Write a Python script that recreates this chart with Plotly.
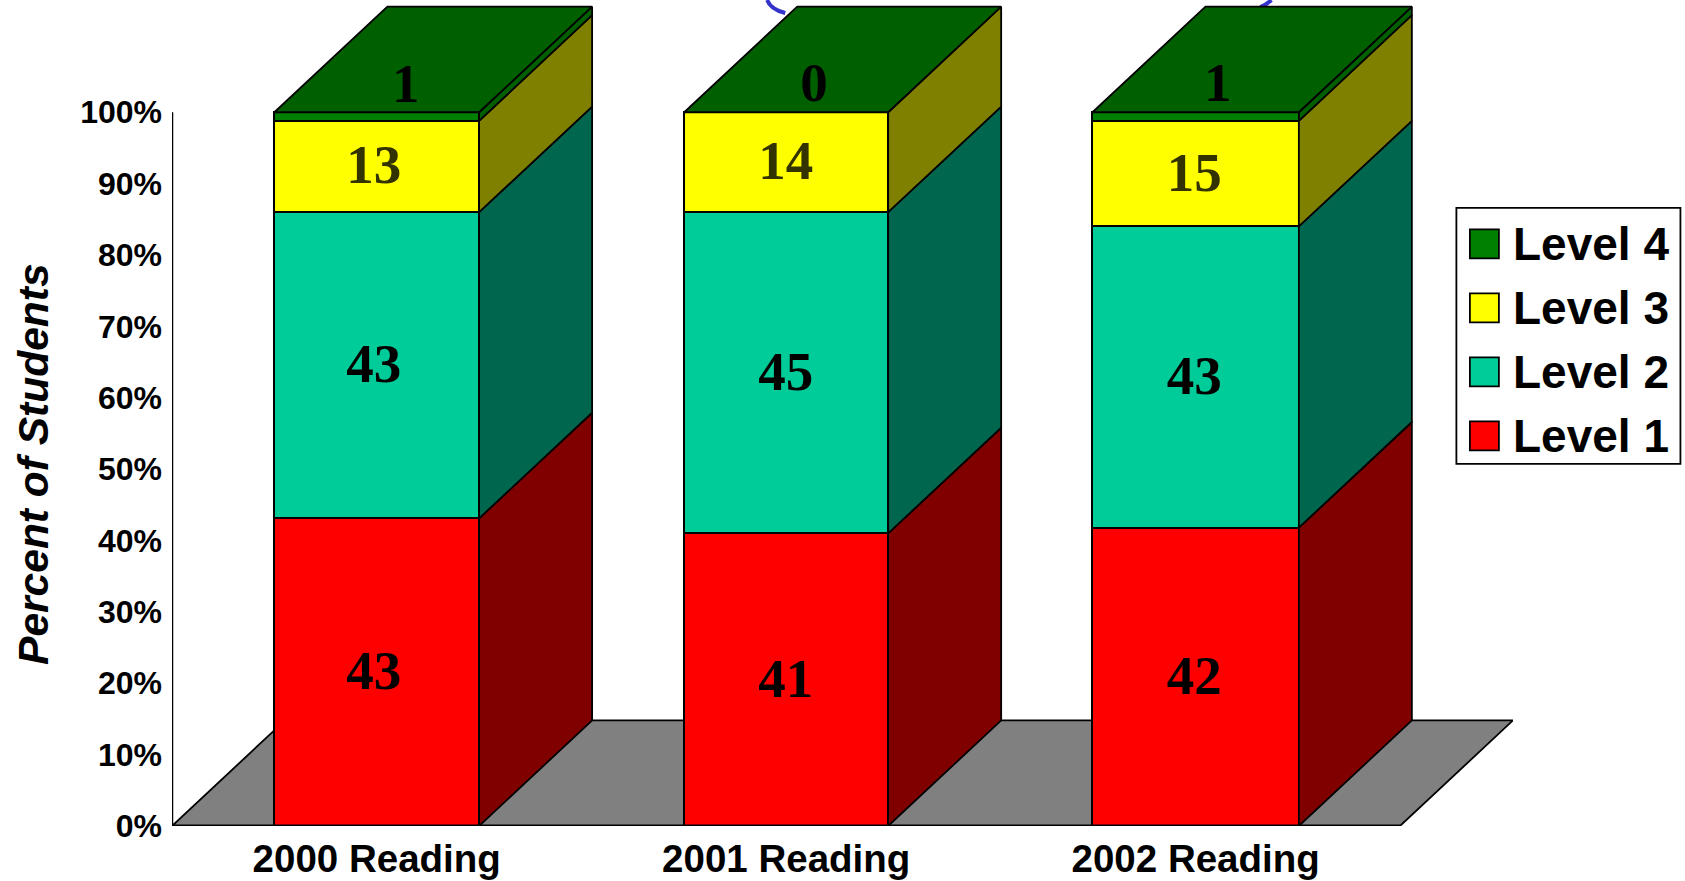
import plotly.graph_objects as go

categories = ["2000 Reading", "2001 Reading", "2002 Reading"]
level1 = [43.1, 41.0, 41.8]
level2 = [42.9, 45.0, 42.2]
level3 = [12.8, 14.0, 14.8]
level4 = [1.2, 0.0, 1.2]
label1 = ["43", "41", "42"]
label2 = ["43", "45", "43"]
label3 = ["13", "14", "15"]
label4 = ["1", "0", "1"]
level_names = ["Level 1", "Level 2", "Level 3", "Level 4"]
front_colors = ["#FF0000", "#00CC99", "#FFFF00", "#008000"]
side_colors = ["#800000", "#00664D", "#808000", "#006000"]
label_colors = ["#000000", "#000000", "#333300", "#000000"]
y_ticks = [0, 10, 20, 30, 40, 50, 60, 70, 80, 90, 100]
y_ticktext = [f"{v}%" for v in y_ticks]
label_dx = [-0.007, -0.001, -0.0035]
level4_label_dx = [0.071, 0.068, 0.054]
level4_label_y = [103.4, 103.5, 103.5]
bar_widths = [0.5, 0.498, 0.504]

W, H = 1685, 881
X0, X1 = 171.9, 1512.6      # plot area, px
Y0, Y1 = 826.3, 5.0
DEPTH_X = 0.276
DEPTH_Y = 14.8
FLOOR_Y = 14.8
XMIN, XMAX = -0.5, 2.775
YMAX = (Y0 - Y1) / 7.14
LABEL_SHIFT = -0.45


def px(x):
    return (x - X0) / (X1 - X0)


def py(y):
    return (Y0 - y) / (Y0 - Y1)


SERIES = [level1, level2, level3, level4]
LABELS = [label1, label2, label3, label4]
xs = list(range(len(categories)))
fig = go.Figure()

# front faces
for name, vals, col in zip(level_names, SERIES, front_colors):
    fig.add_trace(go.Bar(
        x=xs, y=vals, name=name, width=bar_widths, showlegend=False,
        marker=dict(color=col, line=dict(color="#000000", width=2)),
        hoverinfo="skip",
    ))

# side faces and tops, computed from the stacked values
for i, x in enumerate(xs):
    xr = x + bar_widths[i] / 2
    xl = x - bar_widths[i] / 2
    base = 0.0
    for s, vals in enumerate(SERIES):
        top = base + vals[i]
        if vals[i] > 0:
            fig.add_trace(go.Scatter(
                x=[xr, xr, xr + DEPTH_X, xr + DEPTH_X, xr],
                y=[base, top, top + DEPTH_Y, base + DEPTH_Y, base],
                mode="lines", fill="toself", fillcolor=side_colors[s],
                line=dict(color="#000000", width=1.8), showlegend=False,
                hoverinfo="skip", cliponaxis=False,
            ))
        base = top
    fig.add_trace(go.Scatter(
        x=[xl, xr, xr + DEPTH_X, xl + DEPTH_X, xl],
        y=[base, base, base + DEPTH_Y, base + DEPTH_Y, base],
        mode="lines", fill="toself", fillcolor=side_colors[3],
        line=dict(color="#000000", width=1.8), showlegend=False,
        hoverinfo="skip", cliponaxis=False,
    ))

# data labels
cum = [0.0] * len(xs)
for s, (vals, labs) in enumerate(zip(SERIES, LABELS)):
    if s < 3:
        lx = [x + d for x, d in zip(xs, label_dx)]
        ly = [c + v / 2 + LABEL_SHIFT for c, v in zip(cum, vals)]
    else:
        lx = [x + d for x, d in zip(xs, level4_label_dx)]
        ly = level4_label_y
    fig.add_trace(go.Scatter(
        x=lx, y=ly, text=labs, mode="text", showlegend=False, hoverinfo="skip",
        textposition="middle center", cliponaxis=False,
        textfont=dict(family="Liberation Serif", size=55, color=label_colors[s], weight="bold"),
    ))
    cum = [c + v for c, v in zip(cum, vals)]

shapes = []
# floor
floor = (f"M {XMIN} 0 L {XMIN + DEPTH_X} {FLOOR_Y} L {XMAX} {FLOOR_Y} "
         f"L {XMAX - DEPTH_X} 0 Z")
shapes.append(dict(type="path", path=floor, xref="x", yref="y", layer="below",
                   fillcolor="#808080", line=dict(color="#000000", width=1.8)))
# axis lines
shapes.append(dict(type="line", xref="x", yref="y", x0=XMIN, x1=XMIN, y0=0, y1=100,
                   line=dict(color="#000000", width=2.5), layer="below"))
shapes.append(dict(type="line", xref="x", yref="y", x0=XMIN, x1=XMAX - DEPTH_X, y0=0, y1=0,
                   line=dict(color="#000000", width=3), layer="above"))
# blue remnants at the top edge
for a, c, b in [((785, 13), (770, 9), (767, 0)), ((1260, 7), (1267, 4), (1271, 0))]:
    shapes.append(dict(type="path", xref="paper", yref="paper", layer="below",
                       path=f"M {px(a[0])} {py(a[1])} Q {px(c[0])} {py(c[1])} {px(b[0])} {py(b[1])}",
                       line=dict(color="#3333CC", width=4)))
# legend box
shapes.append(dict(type="rect", xref="paper", yref="paper",
                   x0=px(1456), x1=px(1680), y0=py(208), y1=py(464),
                   fillcolor="#FFFFFF", line=dict(color="#000000", width=1.8)))

annotations = [dict(
    text="<b><i>Percent of Students</i></b>", xref="paper", yref="paper",
    x=px(34), y=py(465), textangle=-90, showarrow=False, xanchor="center", yanchor="middle",
    font=dict(family="Liberation Sans", size=42.5, color="#000000"),
)]
for k, (name, col) in enumerate(zip(level_names[::-1], front_colors[::-1])):
    cy = 244 + k * 64
    shapes.append(dict(type="rect", xref="paper", yref="paper",
                       x0=px(1469.5), x1=px(1498.5), y0=py(cy - 14.5), y1=py(cy + 14.5),
                       fillcolor=col, line=dict(color="#000000", width=1.8)))
    annotations.append(dict(
        text=f"<b>{name}</b>", xref="paper", yref="paper", x=px(1511), y=py(cy),
        xanchor="left", yanchor="middle", showarrow=False,
        font=dict(family="Liberation Sans", size=46, color="#000000"),
    ))

fig.update_layout(
    barmode="stack", width=W, height=H, autosize=False,
    paper_bgcolor="#FFFFFF", plot_bgcolor="rgba(0,0,0,0)", showlegend=False,
    margin=dict(l=X0, r=W - X1, t=Y1, b=H - Y0, pad=0, autoexpand=False),
    shapes=shapes, annotations=annotations,
    xaxis=dict(range=[XMIN, XMAX], tickvals=xs, ticktext=categories, showgrid=False,
               zeroline=False, showline=False, ticks="", automargin=False,
               ticklabelstandoff=6,
               tickfont=dict(family="Liberation Sans", size=38.5, color="#000000", weight="bold")),
    yaxis=dict(range=[0, YMAX], tickvals=y_ticks, ticktext=y_ticktext, showgrid=False,
               zeroline=False, showline=False, ticks="", automargin=False,
               ticklabelstandoff=9,
               tickfont=dict(family="Liberation Sans", size=32, color="#000000", weight="bold")),
)
fig.write_html("out.html", config=dict(displayModeBar=False),
               post_script="document.body.style.margin='0';document.body.style.overflow='hidden';")
